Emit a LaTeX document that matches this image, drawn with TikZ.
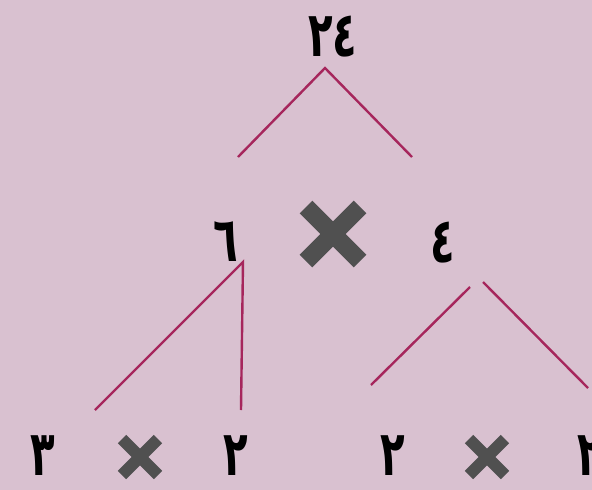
\documentclass[tikz,border=0pt]{standalone}
\usepackage{fontspec}
\newfontfamily\arabicfont[Script=Arabic]{DejaVu Sans}
\definecolor{treebg}{RGB}{217,193,208}
\definecolor{treeline}{RGB}{166,38,92}
\definecolor{timesgray}{RGB}{80,80,80}
\tikzset{
  treenum/.style={font=\arabicfont\bfseries\fontsize{56}{60}\selectfont, inner sep=0pt, text=black, xscale=0.72, yscale=1.12, transform shape},
  treeedge/.style={draw=treeline, line width=2.4pt},
  bigtimes/.pic={\draw[timesgray, line width=18pt] (-27,-27) -- (27,27) (-27,27) -- (27,-27);},
  smalltimes/.pic={\draw[timesgray, line width=12pt] (-18,-18) -- (18,18) (-18,18) -- (18,-18);}
}
\begin{document}
\begin{tikzpicture}[x=1pt, y=-1pt]
\fill[treebg] (0,0) rectangle (592,490);
\useasboundingbox (0,0) rectangle (592,490);
\clip (0,0) rectangle (592,490);
% numbers of the tree
\node[treenum] (n24) at (333,37) {٢٤};
\node[treenum] (n6) at (226,242) {٦};
\node[treenum] (n4) at (443,243) {٤};
\node[treenum] (b3) at (43,456) {٣};
\node[treenum] (b2a) at (236,456) {٢};
\node[treenum] (b2b) at (393,456) {٢};
\node[treenum] (b2c) at (590,456) {٢};
% times signs
\pic at (333,234) {bigtimes};
\pic at (140,457) {smalltimes};
\pic at (487,457) {smalltimes};
% branch ends
\coordinate (top) at (325,68);
\coordinate (topL) at (238,157);
\coordinate (topR) at (412,157);
\coordinate (six) at (243,262);
\coordinate (sixL) at (95,410);
\coordinate (sixR) at (241,410);
\coordinate (fourA) at (470,287);
\coordinate (fourL) at (371,385);
\coordinate (fourB) at (483,282);
\coordinate (fourR) at (588,388);
\draw[treeedge] (topL) -- (top) -- (topR);
\draw[treeedge] (sixL) -- (six) -- (sixR);
\draw[treeedge] (fourA) -- (fourL);
\draw[treeedge] (fourB) -- (fourR);
\end{tikzpicture}
\end{document}
